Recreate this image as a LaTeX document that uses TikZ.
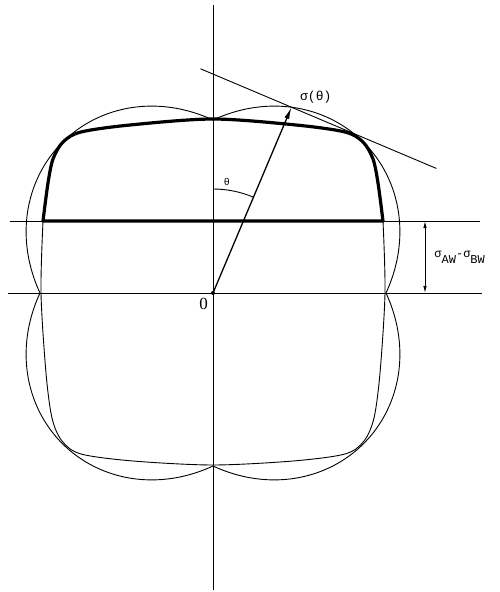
\documentclass[tikz,border=0pt]{standalone}
\usepackage{fontspec}
\newfontfamily\plotfont{Liberation Mono}
\newfontfamily\zerofont{Liberation Serif}
\usepackage{tikz}
\usetikzlibrary{calc, positioning, arrows.meta}

\begin{document}
\begin{tikzpicture}[
        x=1pt, y=1pt,
        thinline/.style={line width=0.9pt},
        thickline/.style={line width=3.2pt, line join=round},
        vecarrow/.style={line width=1.3pt, -{Latex[length=12pt, width=5pt]}},
        dimarrow/.style={line width=0.9pt, {Latex[length=7pt, width=3.5pt]}-{Latex[length=7pt, width=3.5pt]}},
        lbl/.style={inner sep=0pt, font={\plotfont\fontsize{#1}{#1}\selectfont}},
        declare function={pr(\t)=173+40*abs(sin(2*\t));}
      ]
        \useasboundingbox (-213,-299) rectangle (287,293);

        \coordinate (O) at (0,0);
        \coordinate (P) at ({pr(67.1)*cos(67.1)},{pr(67.1)*sin(67.1)});
        \coordinate (axtop) at (0,288);
        \coordinate (axbot) at (0,-297);
        \coordinate (zwest) at (-205,0);
        \coordinate (zeast) at (269,0);
        \coordinate (hwest) at (-203,72);
        \coordinate (heast) at (267,72);
        \coordinate (dimtop) at (212,72);
        \coordinate (dimbot) at (212,0);

        % axes and the two levels
        \draw[thinline] (axbot) -- (axtop);
        \draw[thinline] (zwest) -- (zeast);
        \draw[thinline] (hwest) -- (heast);

        % polar plot sigma(theta)
        \draw[thinline] plot[domain=0:360, samples=361] ({pr(\x)*cos(\x)},{pr(\x)*sin(\x)}) -- cycle;

        % equilibrium shape, lower part
        \draw[thinline] plot[smooth, tension=0.5] coordinates {(-170,72) (-172,0) (-167,-80) (-161,-125)
          (-151,-148) (-132,-161) (-80,-168) (0,-172) (80,-168) (132,-161) (151,-148) (161,-125)
          (167,-80) (172,0) (170,72)};
        % equilibrium shape, upper part
        \draw[thickline] plot[smooth, tension=0.5] coordinates {(-170,72) (-165,110) (-160,134)
          (-150,151) (-132,161) (-83,168) (0,174) (83,168) (132,161) (150,151) (160,134)
          (165,110) (170,72)} -- cycle;

        % radius vector, plane and angle
        \draw[vecarrow] (O) -- (P);
        \fill (O) circle (2pt);
        \draw[thinline] ($(P)!0.49!-90:(O)$) -- ($(P)!0.78!90:(O)$);
        \draw[thinline] (0,104) arc[start angle=90, end angle=67.1, radius=104pt];

        \node[lbl=13, above right=4pt and 8.5pt of P] (sigmalbl) {σ(θ)};
        \node[lbl=10] (thetalbl) at (14,111) {θ};
        \node[inner sep=0pt, font={\zerofont\fontsize{17}{17}\selectfont}, below left=5pt and 5pt of O] (zerolbl) {0};

        \draw[dimarrow] (dimtop) -- node[lbl=12, right=9pt] (dimlbl) {σ\raisebox{-6pt}{AW}-σ\raisebox{-6pt}{BW}} (dimbot);
      \end{tikzpicture}
\end{document}
